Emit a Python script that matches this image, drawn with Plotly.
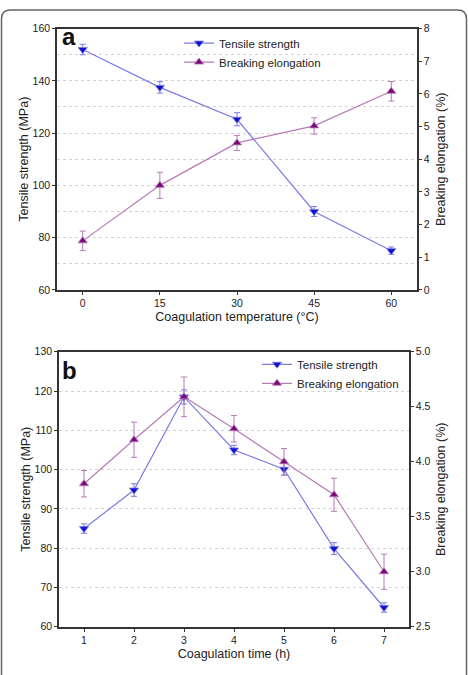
import plotly.graph_objects as go

# ---------------- data ----------------
temp_c = [0, 15, 30, 45, 60]
tensile_a = [152, 137.5, 125.3, 90, 75]
tensile_a_err = [2.0, 2.2, 2.5, 1.9, 1.4]
elong_a = [1.5, 3.2, 4.5, 5.02, 6.08]
elong_a_err = [0.3, 0.4, 0.23, 0.25, 0.3]

time_h = [1, 2, 3, 4, 5, 6, 7]
tensile_b = [85, 94.8, 118.5, 105, 100.1, 79.9, 64.9]
tensile_b_err = [1.2, 1.6, 1.8, 1.2, 1.5, 1.5, 1.2]
elong_b = [3.80, 4.20, 4.59, 4.30, 4.00, 3.70, 3.00]
elong_b_err = [0.12, 0.16, 0.18, 0.12, 0.12, 0.15, 0.16]

W, H = 469, 675
BLUE_LINE = "#7b7be6"
BLUE_MK = "#1010d0"
PUR_LINE = "#b77ab7"
PUR_MK = "#7a0a7a"
FONT = "Liberation Sans, Arial, sans-serif"
AX = "#333333"
GRID = "#d4d4d4"

def px(x):
    return x / W

def py(y):
    return 1 - y / H

fig = go.Figure()

def add_pair(xs, ts, te, es, ee, xa, ya_l, ya_r, leg, msize):
    fig.add_trace(go.Scatter(
        x=xs, y=ts, mode="lines+markers", name="Tensile strength",
        xaxis=xa, yaxis=ya_l, legend=leg,
        line=dict(color=BLUE_LINE, width=1.2),
        marker=dict(symbol="triangle-down", size=msize, color=BLUE_MK,
                    line=dict(color=BLUE_LINE, width=0.8)),
        error_y=dict(type="data", array=te, visible=True, color=BLUE_LINE,
                     thickness=1, width=3),
    ))
    fig.add_trace(go.Scatter(
        x=xs, y=es, mode="lines+markers", name="Breaking elongation",
        xaxis=xa, yaxis=ya_r, legend=leg,
        line=dict(color=PUR_LINE, width=1.2),
        marker=dict(symbol="triangle-up", size=msize, color=PUR_MK,
                    line=dict(color=PUR_LINE, width=0.8)),
        error_y=dict(type="data", array=ee, visible=True, color=PUR_LINE,
                     thickness=1, width=3),
    ))

add_pair(temp_c, tensile_a, tensile_a_err, elong_a, elong_a_err,
         "x", "y", "y2", "legend", 8)
add_pair(time_h, tensile_b, tensile_b_err, elong_b, elong_b_err,
         "x2", "y3", "y4", "legend2", 8)

tickfont = dict(family=FONT, size=10.5, color="#222")
titlefont = dict(family=FONT, size=12.5, color="#222")

common_x = dict(showline=True, linecolor=AX, linewidth=1.5, mirror=True,
                ticks="outside", ticklen=3, tickcolor=AX, tickfont=tickfont,
                showgrid=False, zeroline=False)
common_y = dict(showline=True, linecolor=AX, linewidth=1.5,
                ticks="outside", ticklen=3, tickcolor=AX, tickfont=tickfont,
                zeroline=False)

# panel a domains
ax_a = [px(57), px(417)]
ay_a = [py(289), py(23)]
# panel b domains
ax_b = [px(59), px(409)]
ay_b = [py(632), py(352)]

legfont = dict(family=FONT, size=11.5, color="#222")

fig.update_layout(
    width=W, height=H,
    margin=dict(l=0, r=0, t=0, b=0),
    paper_bgcolor="white", plot_bgcolor="white",
    font=dict(family=FONT, color="#222"),
    xaxis=dict(domain=ax_a, anchor="y", range=[-5, 65], tickvals=temp_c,
               title=dict(text="Coagulation temperature (°C)", font=titlefont, standoff=4),
               **common_x),
    yaxis=dict(domain=ay_a, anchor="x", range=[60, 160], dtick=20,
               showgrid=True, gridcolor=GRID, griddash="dot", gridwidth=1,
               minor=dict(dtick=10, showgrid=True, gridcolor=GRID, griddash="dot"),
               title=dict(text="Tensile strength (MPa)", font=titlefont, standoff=1),
               **common_y),
    yaxis2=dict(domain=ay_a, anchor="x", overlaying="y", side="right",
                range=[0, 8], dtick=1, showgrid=False,
                title=dict(text="Breaking elongation (%)", font=titlefont, standoff=7),
                **common_y),
    xaxis2=dict(domain=ax_b, anchor="y3", range=[0.5, 7.5], tickvals=time_h,
                title=dict(text="Coagulation time (h)", font=titlefont, standoff=4),
                **common_x),
    yaxis3=dict(domain=ay_b, anchor="x2", range=[60, 130], dtick=10,
                showgrid=True, gridcolor=GRID, griddash="dot", gridwidth=1,
                title=dict(text="Tensile strength (MPa)", font=titlefont, standoff=1),
                **common_y),
    yaxis4=dict(domain=ay_b, anchor="x2", overlaying="y3", side="right",
                range=[2.5, 5.0], dtick=0.5, tickformat=".1f", showgrid=False,
                title=dict(text="Breaking elongation (%)", font=titlefont, standoff=7),
                **common_y),
    legend=dict(x=px(179), y=py(23), xanchor="left", yanchor="top",
                bgcolor="rgba(0,0,0,0)", font=legfont,
                tracegroupgap=0, itemwidth=30),
    legend2=dict(x=px(257), y=py(350), xanchor="left", yanchor="top",
                 bgcolor="rgba(0,0,0,0)", font=legfont,
                 tracegroupgap=0, itemwidth=30),
    showlegend=True,
)

fig.add_annotation(text="<b>a</b>", x=px(60), y=py(15), xref="paper", yref="paper",
                   xanchor="left", yanchor="top", showarrow=False,
                   font=dict(family=FONT, size=24, color="#111"))
fig.add_annotation(text="<b>b</b>", x=px(60), y=py(355), xref="paper", yref="paper",
                   xanchor="left", yanchor="top", showarrow=False,
                   font=dict(family=FONT, size=24, color="#111"))

# outer rounded frame
r = 9
x0, x1, y0, y1 = 1.5, 466.5, 4, 690
path = (f"M {px(x0)},{py(y1)} L {px(x0)},{py(y0 + r)} "
        f"Q {px(x0)},{py(y0)} {px(x0 + r)},{py(y0)} "
        f"L {px(x1 - r)},{py(y0)} Q {px(x1)},{py(y0)} {px(x1)},{py(y0 + r)} "
        f"L {px(x1)},{py(y1)}")
fig.add_shape(type="path", path=path, xref="paper", yref="paper",
              line=dict(color="#666", width=1.5), layer="above")

fig.write_html("out.html")
